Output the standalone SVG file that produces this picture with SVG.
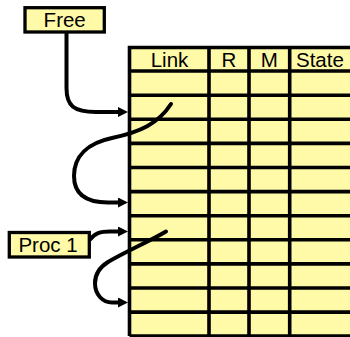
<svg xmlns="http://www.w3.org/2000/svg" width="350" height="337" viewBox="0 0 350 337">
<defs>
<style>
.box{fill:#FFFAA8;stroke:#000;stroke-width:3.3}
.grid{stroke:#000;stroke-width:3.6;fill:none}
.lbl{font-family:"Liberation Sans",Arial,sans-serif;font-size:20.5px;fill:#000}
.con{fill:none;stroke:#000;stroke-width:4;stroke-linecap:round}
</style>
<marker id="ah" markerWidth="10" markerHeight="10" refX="0" refY="5" orient="auto" markerUnits="userSpaceOnUse" viewBox="0 0 10 10">
<path d="M0,0 L10,5 L0,10 Z" fill="#000"/>
</marker>
</defs>
<g id="table">
<rect x="129.5" y="47.5" width="230" height="289" fill="#FFFAA8"/>
<path class="grid" d="M129.5,336 V47.5 H352 M129.5,71 H352 M129.5,95.2 H352 M129.5,119.3 H352 M129.5,143.4 H352 M129.5,167.5 H352 M129.5,191.6 H352 M129.5,215.7 H352 M129.5,239.8 H352 M129.5,263.9 H352 M129.5,288 H352 M129.5,312.1 H352 M129.5,336 H352 M209,47.5 V336 M249,47.5 V336 M289.7,47.5 V336"/>
<text class="lbl" x="169.5" y="66.5" text-anchor="middle">Link</text>
<text class="lbl" x="229" y="66.5" text-anchor="middle">R</text>
<text class="lbl" x="269.3" y="66.5" text-anchor="middle">M</text>
<text class="lbl" x="296" y="66.5">State</text>
</g>
<g id="free">
<rect class="box" x="25" y="7.7" width="79.3" height="24.3"/>
<text class="lbl" x="64.7" y="27.3" text-anchor="middle">Free</text>
</g>
<g id="proc1">
<rect class="box" x="9.3" y="232.5" width="80" height="24.5"/>
<text class="lbl" x="48" y="251.7" text-anchor="middle">Proc 1</text>
</g>
<g id="connectors">
<path class="con" marker-end="url(#ah)" d="M66.5,33 L66.5,88 C66.5,106 74,112 96,112 L118,112"/>
<path class="con" marker-end="url(#ah)" d="M171,104 C158,124 140,132 112,138 C88,143 74,156 74,176 C74,194 86,202.5 108,202.5 L118,202.5"/>
<path class="con" marker-end="url(#ah)" d="M90,239.5 C95,233 100,231.5 110,231.5 L118,231.5"/>
<path class="con" marker-end="url(#ah)" d="M166,231.5 C150,241 125,252 108,262 C97,269 95,276 95,283 C95,295 103,302.5 112,302.5 L118,302.5"/>
</g>
</svg>
